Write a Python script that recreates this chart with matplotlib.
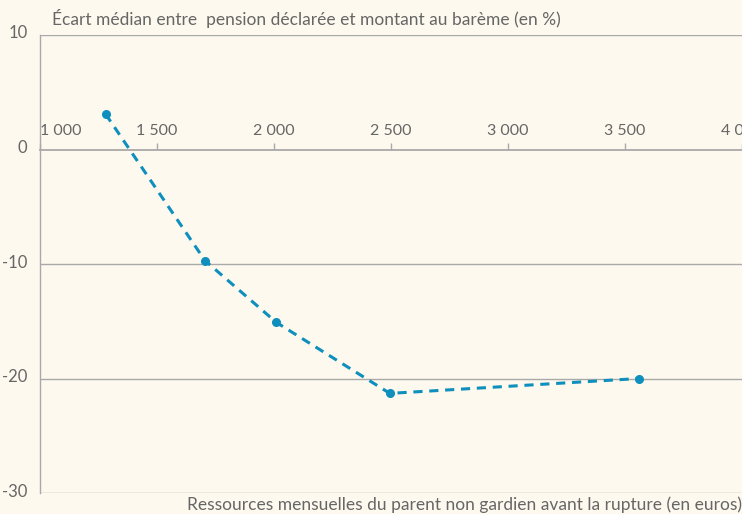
import matplotlib.pyplot as plt
import matplotlib.transforms as mtransforms

# données
revenus = [1280, 1705, 2010, 2495, 3560]
ecart = [3.1, -9.7, -15.1, -21.3, -20.0]

x_ticks = [1000, 1500, 2000, 2500, 3000, 3500, 4000]
x_labels = ['1 000', '1 500', '2 000', '2 500', '3 000', '3 500', '4 000']
y_ticks = [-30, -20, -10, 0, 10]
y_labels = ['-30', '-20', '-10', '0', '10']

bg = '#fdf9ee'
gris = '#a9a9a9'
texte = '#666666'
bleu = '#0f8fbd'

plt.rcParams['font.family'] = ['Lato', 'DejaVu Sans']

fig = plt.figure(figsize=(7.42, 5.14), dpi=100, facecolor=bg)
ax = fig.add_axes([40 / 742, 1 - 493 / 514, 702 / 742, (493 - 35) / 514])
ax.set_facecolor(bg)

ax.set_xlim(1000, 4000)
ax.set_ylim(-30, 10)

# grille horizontale
for y in y_ticks:
    if y != 0:
        ax.axhline(y, color=gris, lw=1, zorder=1)

# axe des x placé en haut, sur la ligne 0
for s in ['bottom', 'right']:
    ax.spines[s].set_visible(False)
ax.spines['top'].set_position(('data', 0))
ax.spines['top'].set_color(gris)
ax.spines['top'].set_linewidth(1.3)
ax.spines['left'].set_color(gris)
ax.spines['left'].set_linewidth(1)

ax.xaxis.set_ticks_position('top')
ax.set_xticks(x_ticks)
ax.set_xticklabels(x_labels)
ax.tick_params(axis='x', direction='out', length=5, width=1, color=gris,
               labelsize=11.5, labelcolor=texte, pad=3)
ax.get_xticklabels()[0].set_horizontalalignment('left')

ax.set_yticks(y_ticks)
ax.set_yticklabels(y_labels)
ax.tick_params(axis='y', length=0, labelsize=12, labelcolor=texte, pad=9)
# léger décalage vers le haut des étiquettes de l'axe y
off = mtransforms.ScaledTranslation(0, 3 / 100, fig.dpi_scale_trans)
for lab in ax.get_yticklabels():
    lab.set_transform(lab.get_transform() + off)

ax.plot(revenus, ecart, color=bleu, lw=2.2, ls=(0, (3, 2.2)), marker='o',
        markersize=5.5, zorder=3, clip_on=False)

fig.text(52 / 742, 1 - 18 / 514, 'Écart médian entre  pension déclarée et montant au barème (en %)',
         fontsize=12.5, color=texte, va='center', ha='left')
fig.text(1.0, 1 / 514, 'Ressources mensuelles du parent non gardien avant la rupture (en euros)',
         fontsize=12.5, color=texte, va='bottom', ha='right')

plt.savefig('out.png', dpi=100, facecolor=bg)
